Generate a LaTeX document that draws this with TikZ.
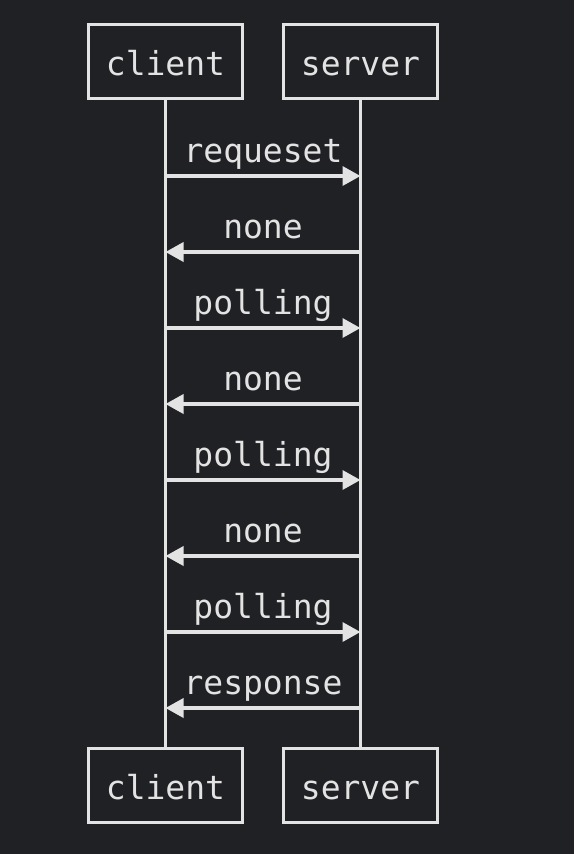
\documentclass[tikz,border=0pt]{standalone}
\usepackage{fontspec}
\setmonofont{DejaVu Sans Mono}
\usepackage{tikz}
\usetikzlibrary{arrows.meta,calc}
\definecolor{bg}{HTML}{202124}
\definecolor{fg}{HTML}{E3E3E3}
\tikzset{
  actor/.style={draw=fg, line width=3.5pt, fill=bg, text=fg, inner sep=0pt,
    minimum width=154pt, minimum height=74pt, text height=27pt, text depth=0pt,
    font=\ttfamily\fontsize{33}{40}\selectfont},
  lifeline/.style={draw=fg, line width=3.5pt},
  msg/.style={draw=fg, line width=3.5pt, -{Triangle[length=18pt,width=19pt]}},
  msglabel/.style={text=fg, anchor=base, inner sep=0pt, font=\ttfamily\fontsize{33}{40}\selectfont}
}

\begin{document}
\begin{tikzpicture}[x=1pt, y=-1pt]
  \fill[bg] (0,0) rectangle (574,854);
  \useasboundingbox (0,0) rectangle (574,854);
  % actors, top and bottom
  \node[actor] (client top) at (165.5,61.5) {client};
  \node[actor] (server top) at (360.5,61.5) {server};
  \node[actor] (client bot) at (165.5,785.5) {client};
  \node[actor] (server bot) at (360.5,785.5) {server};
  \draw[lifeline] (client top) -- (client bot);
  \draw[lifeline] (server top) -- (server bot);
  % messages
  \foreach \i/\txt/\from/\to in {1/requeset/c/s, 2/none/s/c, 3/polling/c/s, 4/none/s/c,
                                 5/polling/c/s, 6/none/s/c, 7/polling/c/s, 8/response/s/c}
  {
    \coordinate (c\i) at (165.5,100+76*\i);
    \coordinate (s\i) at (360.5,100+76*\i);
    \draw[msg] (\from\i) -- (\to\i);
    \node[msglabel] (m\i) at ($(c\i)!0.5!(s\i)+(0,-14)$) {\txt};
  }
\end{tikzpicture}
\end{document}
